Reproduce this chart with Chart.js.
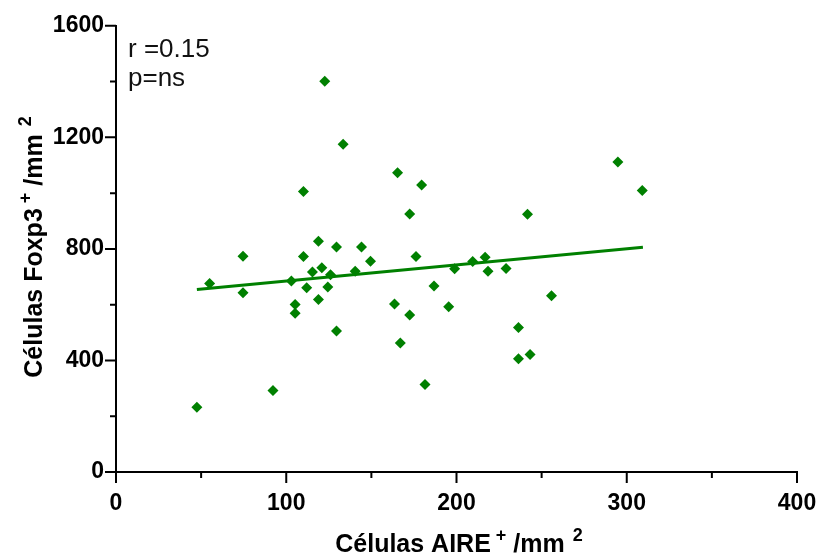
<!DOCTYPE html>
<html>
<head>
<meta charset="utf-8">
<script src="https://cdn.jsdelivr.net/npm/chart.js@4.4.1/dist/chart.umd.min.js"></script>
<style>
  html, body { margin: 0; padding: 0; background: #fff; }
  #wrap { width: 819px; height: 558px; position: relative; }
</style>
</head>
<body>
<div id="wrap"><canvas id="corr-chart"></canvas></div>
<script>
// AIRE+ cells/mm2 (x) vs Foxp3+ cells/mm2 (y)
const aireCells = [47.5, 55, 74.6, 74.6, 92.2, 103, 105.2, 105.2, 110.1, 110.1,
  112, 115.4, 118.9, 118.9, 120.9, 122.6, 124.4, 126, 129.5, 129.5,
  133.4, 140.5, 144.2, 149.5, 163.6, 165.4, 167, 172.5, 172.5, 176.2,
  179.5, 181.5, 186.8, 195.4, 198.9, 209.5, 216.8, 218.5, 229.1, 236.4,
  236.4, 241.7, 243.2, 255.8, 294.8, 309.1];
const foxp3Cells = [232, 676, 774, 643, 292, 685, 601, 569, 773, 1006,
  661, 717, 827, 619, 732, 1401, 663, 707, 807, 506,
  1175, 720, 807, 756, 602, 1073, 463, 925, 563, 773,
  1029, 314, 667, 593, 729, 755, 770, 720, 730, 518,
  406, 924, 421, 632, 1112, 1009];

// regression line end points
const fitX = [47.5, 309.5];
const fitY = [654, 806];

const xTickValues = [0, 100, 200, 300, 400];
const xMinorTicks = [50, 150, 250, 350];
const yTickValues = [0, 400, 800, 1200, 1600];
const yMinorTicks = [200, 600, 1000, 1400];

const statsLines = ['r =0.15', 'p=ns'];
const xTitleParts = ['Células AIRE', '+', '/mm', '2'];
const yTitleParts = ['Células Foxp3', '+', '/mm', '2'];

const FONT = '"Liberation Sans", Arial, sans-serif';
const GREEN = '#008000';

// title with superscripts, drawn piece by piece
function drawTitle(ctx, parts, cx, cy, rotate) {
  const fonts = ['bold 25px ' + FONT, 'bold 18px ' + FONT, 'bold 25px ' + FONT, 'bold 18px ' + FONT];
  const gaps = [5, 7, 8, 0];
  const rise = [0, -11, 0, -11];
  ctx.save();
  ctx.translate(cx, cy);
  if (rotate) ctx.rotate(-Math.PI / 2);
  ctx.fillStyle = '#000';
  ctx.textBaseline = 'alphabetic';
  ctx.textAlign = 'left';
  const widths = parts.map((p, i) => { ctx.font = fonts[i]; return ctx.measureText(p).width; });
  let total = 0;
  widths.forEach((w, i) => { total += w + gaps[i]; });
  let x = -total / 2;
  parts.forEach((p, i) => {
    ctx.font = fonts[i];
    ctx.fillText(p, x, rise[i]);
    x += widths[i] + gaps[i];
  });
  ctx.restore();
}

const axisExtras = {
  id: 'axisExtras',
  afterDraw(chart) {
    const ctx = chart.ctx;
    const xs = chart.scales.x;
    const ys = chart.scales.y;
    const area = chart.chartArea;

    // major / minor tick marks
    ctx.save();
    ctx.strokeStyle = '#000';
    ctx.lineWidth = 2;
    ctx.beginPath();
    xTickValues.forEach(v => { const p = xs.getPixelForValue(v); ctx.moveTo(p, area.bottom); ctx.lineTo(p, area.bottom + 11); });
    xMinorTicks.forEach(v => { const p = xs.getPixelForValue(v); ctx.moveTo(p, area.bottom); ctx.lineTo(p, area.bottom + 6); });
    yTickValues.forEach(v => { const p = ys.getPixelForValue(v); ctx.moveTo(area.left, p); ctx.lineTo(area.left - 11, p); });
    yMinorTicks.forEach(v => { const p = ys.getPixelForValue(v); ctx.moveTo(area.left, p); ctx.lineTo(area.left - 6, p); });
    ctx.stroke();

    // r / p annotation
    ctx.fillStyle = '#111';
    ctx.font = '26px ' + FONT;
    ctx.textAlign = 'left';
    ctx.textBaseline = 'alphabetic';
    ctx.fillText(statsLines[0], 128, 57);
    ctx.fillText(statsLines[1], 128, 86);
    ctx.restore();

    drawTitle(ctx, xTitleParts, 459, 552, false);
    drawTitle(ctx, yTitleParts, 42, 247, true);
  }
};

new Chart(document.getElementById('corr-chart'), {
  type: 'scatter',
  data: {
    datasets: [
      {
        label: 'fit',
        data: fitX.map((x, i) => ({ x: x, y: fitY[i] })),
        showLine: true,
        borderColor: GREEN,
        borderWidth: 3,
        pointRadius: 0,
        fill: false
      },
      {
        label: 'samples',
        data: aireCells.map((x, i) => ({ x: x, y: foxp3Cells[i] })),
        pointStyle: 'rectRot',
        pointRadius: 5.5,
        backgroundColor: GREEN,
        borderColor: GREEN,
        borderWidth: 0
      }
    ]
  },
  options: {
    responsive: true,
    maintainAspectRatio: false,
    animation: false,
    layout: { padding: { top: 23, right: 0, left: 0, bottom: 0 } },
    plugins: {
      legend: { display: false },
      tooltip: { enabled: false }
    },
    scales: {
      x: {
        type: 'linear',
        min: 0,
        max: 400,
        afterBuildTicks: (scale) => { scale.ticks = xTickValues.map(v => ({ value: v })); },
        afterFit: (scale) => {
          scale.height = 86;
          scale.paddingLeft = 0;
          scale.paddingRight = 22;
        },
        grid: { display: false, drawTicks: false },
        border: { display: true, color: '#000', width: 2 },
        ticks: {
          color: '#000',
          padding: 18,
          maxRotation: 0,
          callback: (v) => String(v),
          font: { family: FONT, size: 23, weight: 'bold' }
        }
      },
      y: {
        type: 'linear',
        min: 0,
        max: 1600,
        afterBuildTicks: (scale) => { scale.ticks = yTickValues.map(v => ({ value: v })); },
        afterFit: (scale) => { scale.width = 116; },
        grid: { display: false, drawTicks: false },
        border: { display: true, color: '#000', width: 2 },
        ticks: {
          color: '#000',
          padding: 12,
          callback: (v) => String(v),
          font: { family: FONT, size: 23, weight: 'bold' }
        }
      }
    }
  },
  plugins: [axisExtras]
});
</script>
</body>
</html>
